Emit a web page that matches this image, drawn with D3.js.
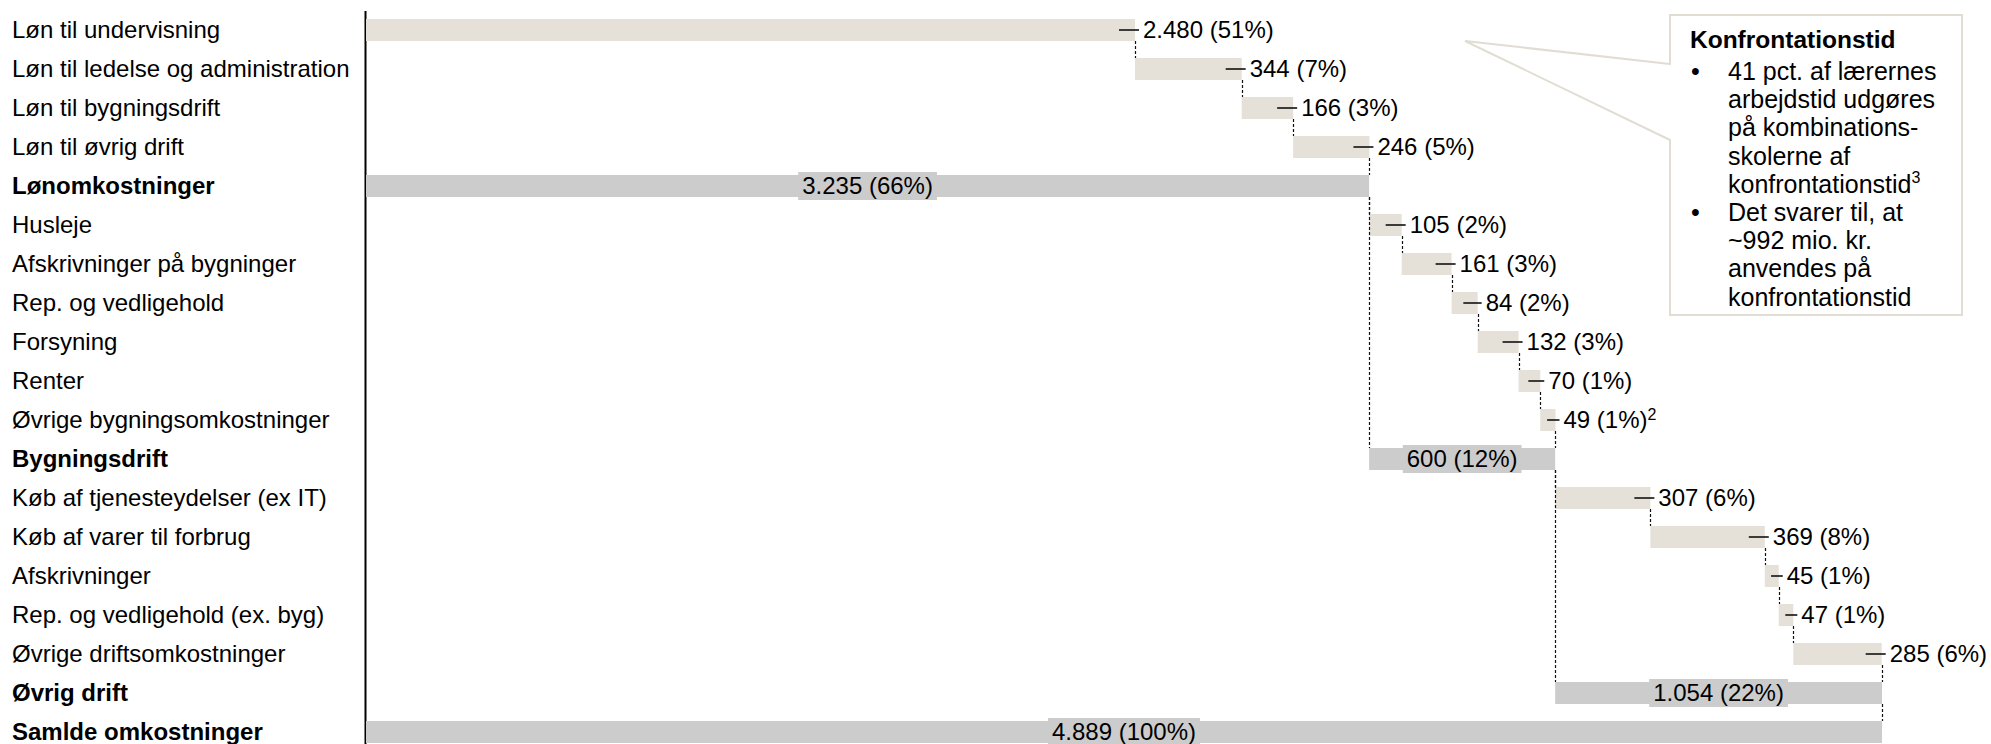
<!DOCTYPE html>
<html>
<head>
<meta charset="utf-8">
<script src="https://cdn.jsdelivr.net/npm/d3@7"></script>
<style>
  html, body { margin: 0; padding: 0; background: #fff; }
  svg { display: block; }
  text { font-family: "Liberation Sans", Arial, sans-serif; fill: #000; }
</style>
</head>
<body>
<svg id="chart" width="1991" height="744"></svg>
<script>
const categories = [
  "Løn til undervisning",
  "Løn til ledelse og administration",
  "Løn til bygningsdrift",
  "Løn til øvrig drift",
  "Lønomkostninger",
  "Husleje",
  "Afskrivninger på bygninger",
  "Rep. og vedligehold",
  "Forsyning",
  "Renter",
  "Øvrige bygningsomkostninger",
  "Bygningsdrift",
  "Køb af tjenesteydelser (ex IT)",
  "Køb af varer til forbrug",
  "Afskrivninger",
  "Rep. og vedligehold (ex. byg)",
  "Øvrige driftsomkostninger",
  "Øvrig drift",
  "Samlde omkostninger"
];
const values = [2480, 344, 166, 246, 3235, 105, 161, 84, 132, 70, 49, 600, 307, 369, 45, 47, 285, 1054, 4889];
const shares = [51, 7, 3, 5, 66, 2, 3, 2, 3, 1, 1, 12, 6, 8, 1, 1, 6, 22, 100];
const kinds = ["step","step","step","step","subtotal",
               "step","step","step","step","step","step","subtotal",
               "step","step","step","step","step","subtotal","total"];
const footnotes = ["","","","","","","","","","","2","","","","","","","",""];

const calloutTitle = "Konfrontationstid";
const calloutLines = [
  {bullet: true,  text: "41 pct. af lærernes", sup: ""},
  {bullet: false, text: "arbejdstid udgøres", sup: ""},
  {bullet: false, text: "på kombinations-", sup: ""},
  {bullet: false, text: "skolerne af", sup: ""},
  {bullet: false, text: "konfrontationstid", sup: "3"},
  {bullet: true,  text: "Det svarer til, at", sup: ""},
  {bullet: false, text: "~992 mio. kr.", sup: ""},
  {bullet: false, text: "anvendes på", sup: ""},
  {bullet: false, text: "konfrontationstid", sup: ""}
];

const stepColor = "#e5e1d8";
const subColor = "#cccccc";
const fontSize = 24;

const svg = d3.select("#chart");
const fmtLocale = d3.formatLocale({decimal: ",", thousands: ".", grouping: [3], currency: ["", " kr."]});
const fmt = fmtLocale.format(",d");

// compute waterfall positions
const rows = [];
let run = 0, groupStart = 0;
categories.forEach((c, i) => {
  const v = values[i];
  let start, end;
  if (kinds[i] === "step") { start = run; end = run + v; run = end; }
  else if (kinds[i] === "subtotal") { start = groupStart; end = groupStart + v; groupStart = end; run = end; }
  else { start = 0; end = v; }
  rows.push({cat: c, v, share: shares[i], kind: kinds[i], start, end, fn: footnotes[i], i});
});

const x = d3.scaleLinear().domain([0, d3.max(values)]).range([366, 1882]);
const y = d3.scaleBand().domain(categories).range([10.5, 751.5]).paddingInner(0.436).paddingOuter(0.218);
const bw = y.bandwidth();
const cy = c => y(c) + bw / 2;

// axis line
const axis = svg.append("g").attr("transform", "translate(365,0)")
  .call(d3.axisLeft(y).tickSize(0).tickFormat(""));
axis.select(".domain").attr("stroke", "#000").attr("stroke-width", 2);

// category labels
svg.append("g").selectAll("text").data(rows).join("text")
  .attr("x", 12)
  .attr("y", d => cy(d.cat))
  .attr("dy", "0.35em")
  .attr("font-size", fontSize)
  .attr("font-weight", d => d.kind === "step" ? "normal" : "bold")
  .text(d => d.cat);

// bars
svg.append("g").selectAll("rect").data(rows).join("rect")
  .attr("x", d => x(d.start))
  .attr("y", d => y(d.cat))
  .attr("width", d => x(d.end) - x(d.start))
  .attr("height", bw)
  .attr("fill", d => d.kind === "step" ? stepColor : subColor);

// connectors
const conn = svg.append("g").attr("stroke", "#111").attr("stroke-width", 1.2).attr("stroke-dasharray", "3,2");
for (let i = 0; i < rows.length - 1; i++) {
  const xx = Math.round(x(rows[i].end)) + 0.5;
  conn.append("line")
    .attr("x1", xx).attr("x2", xx)
    .attr("y1", y(rows[i].cat) + bw)
    .attr("y2", y(rows[i + 1].cat));
}
let prevSub = null;
rows.forEach(r => {
  if (r.kind === "subtotal") {
    if (prevSub && r.start > 0) {
      const xx = Math.round(x(r.start)) + 0.5;
      conn.append("line")
        .attr("x1", xx).attr("x2", xx)
        .attr("y1", y(prevSub.cat) + bw)
        .attr("y2", y(r.cat));
    }
    prevSub = r;
  }
});

// step value labels
const stepRows = rows.filter(r => r.kind === "step");
const sl = svg.append("g");
stepRows.forEach(r => {
  const xe = x(r.end);
  const w = xe - x(r.start);
  const tl = Math.min(16, w * 0.55);
  sl.append("line")
    .attr("x1", xe - tl).attr("x2", xe + 4)
    .attr("y1", cy(r.cat)).attr("y2", cy(r.cat))
    .attr("stroke", "#111").attr("stroke-width", 1.6);
  const t = sl.append("text")
    .attr("x", xe + 8)
    .attr("y", cy(r.cat))
    .attr("dy", "0.35em")
    .attr("font-size", fontSize);
  t.append("tspan").text(fmt(r.v) + " (" + r.share + "%)");
  if (r.fn) {
    t.append("tspan").attr("font-size", 16).attr("dy", "-0.55em").text(r.fn);
  }
});

// subtotal labels with background
const subRows = rows.filter(r => r.kind !== "step");
const tg = svg.append("g");
subRows.forEach(r => {
  const cx = (x(r.start) + x(r.end)) / 2;
  const g = tg.append("g");
  const bg = g.append("rect").attr("fill", subColor);
  const t = g.append("text")
    .attr("x", cx)
    .attr("y", cy(r.cat))
    .attr("dy", "0.35em")
    .attr("text-anchor", "middle")
    .attr("font-size", fontSize)
    .text(fmt(r.v) + " (" + r.share + "%)");
  const tw = t.node().getComputedTextLength();
  bg.attr("x", cx - tw / 2 - 4).attr("width", tw + 8)
    .attr("y", cy(r.cat) - 14).attr("height", 28);
});

// callout box
const box = {x0: 1670, x1: 1962, y0: 15, y1: 315, px: 1465, py: 41, g0: 64, g1: 140};
svg.append("path")
  .attr("d", `M${box.x0},${box.g0} L${box.px},${box.py} L${box.x0},${box.g1} L${box.x0},${box.y1} L${box.x1},${box.y1} L${box.x1},${box.y0} L${box.x0},${box.y0} Z`)
  .attr("fill", "#fff")
  .attr("stroke", "#e1ddd3")
  .attr("stroke-width", 2)
  .attr("stroke-linejoin", "miter");

const boxFont = 25;
const cg = svg.append("g");
cg.append("text").attr("x", 1690).attr("y", 48).attr("font-size", 24.5).attr("font-weight", "bold").text(calloutTitle);
calloutLines.forEach((ln, k) => {
  const yy = 80 + k * 28.2;
  if (ln.bullet) {
    cg.append("text").attr("x", 1691).attr("y", yy).attr("font-size", boxFont).text("•");
  }
  const t = cg.append("text").attr("x", 1728).attr("y", yy).attr("font-size", boxFont);
  t.append("tspan").text(ln.text);
  if (ln.sup) t.append("tspan").attr("font-size", 16).attr("dy", "-0.6em").text(ln.sup);
});
</script>
</body>
</html>
